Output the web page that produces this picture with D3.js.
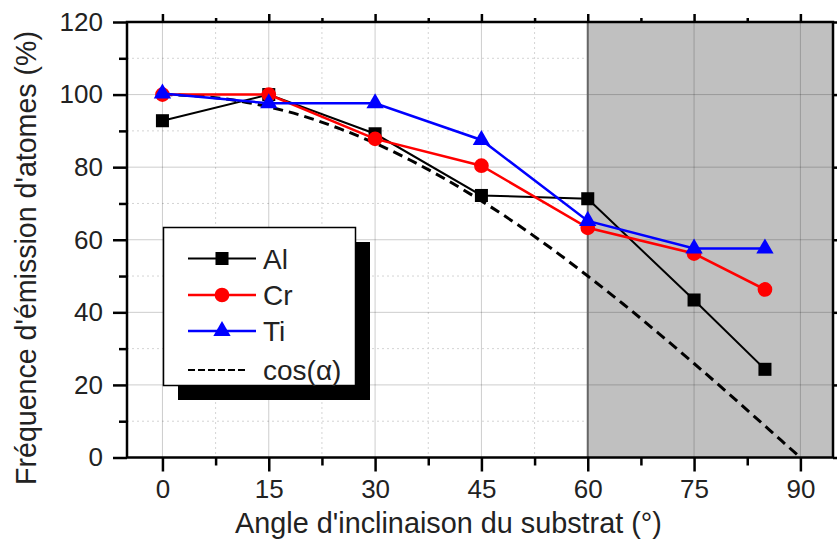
<!DOCTYPE html>
<html>
<head>
<meta charset="utf-8">
<script src="https://cdn.jsdelivr.net/npm/d3@7"></script>
<style>
  body { margin: 0; background: #fff; }
  svg text { font-family: "Liberation Sans", Arial, sans-serif; fill: #222; }
</style>
</head>
<body>
<svg id="chart" width="837" height="547"></svg>
<script>
// data
var angles = [0, 15, 30, 45, 60, 75, 85];
var alValues = [92.8, 100, 89.2, 72.2, 71.3, 43.4, 24.3];
var crValues = [100, 100, 87.8, 80.4, 63.3, 56.2, 46.3];
var tiValues = [100.3, 97.6, 97.6, 87.5, 65.2, 57.6, 57.6];
var cosAngles = [0, 5, 10, 15, 20, 25, 30, 35, 40, 45, 50, 55, 60, 65, 70, 75, 80, 85, 90];
var cosValues = [100, 99.6, 98.5, 96.6, 94.0, 90.6, 86.6, 81.9, 76.6, 70.7, 64.3, 57.4, 50, 42.3, 34.2, 25.9, 17.4, 8.7, 0];
var xTicks = [0, 15, 30, 45, 60, 75, 90];
var xMinor = [7.5, 22.5, 37.5, 52.5, 67.5, 82.5];
var yTicks = [0, 20, 40, 60, 80, 100, 120];
var yMinor = [10, 30, 50, 70, 90, 110];
var shadeStart = 60;
var legendNames = ["Al", "Cr", "Ti", "cos(\u03b1)"];

var svg = d3.select("#chart");
var pLeft = 127, pRight = 833, pTop = 22, pBottom = 457.5;

var x = d3.scaleLinear().domain([-5, 94.6]).range([pLeft, pRight]);
var y = d3.scaleLinear().domain([0, 120]).range([pBottom, pTop]);

// minor grid (dotted)
var grid = svg.append("g");
grid.selectAll(".mx").data(xMinor).enter().append("line")
    .attr("x1", d => x(d)).attr("x2", d => x(d))
    .attr("y1", pTop).attr("y2", pBottom)
    .attr("stroke", "#d4d4d4").attr("stroke-width", 1).attr("stroke-dasharray", "2,3");
grid.selectAll(".my").data(yMinor).enter().append("line")
    .attr("x1", pLeft).attr("x2", pRight)
    .attr("y1", d => y(d)).attr("y2", d => y(d))
    .attr("stroke", "#d4d4d4").attr("stroke-width", 1).attr("stroke-dasharray", "2,3");

// shaded region
svg.append("rect")
    .attr("x", x(shadeStart)).attr("y", pTop)
    .attr("width", pRight - x(shadeStart)).attr("height", pBottom - pTop)
    .attr("fill", "#c0c0c0");

// major grid (translucent so it darkens on grey)
grid = svg.append("g");
grid.selectAll(".Mx").data(xTicks).enter().append("line")
    .attr("x1", d => x(d)).attr("x2", d => x(d))
    .attr("y1", pTop).attr("y2", pBottom)
    .attr("stroke", "rgba(0,0,0,0.2)").attr("stroke-width", 1);
grid.selectAll(".My").data(yTicks.slice(1, -1)).enter().append("line")
    .attr("x1", pLeft).attr("x2", pRight)
    .attr("y1", d => y(d)).attr("y2", d => y(d))
    .attr("stroke", "rgba(0,0,0,0.2)").attr("stroke-width", 1);

svg.append("line")
    .attr("x1", x(shadeStart)).attr("x2", x(shadeStart))
    .attr("y1", pTop).attr("y2", pBottom)
    .attr("stroke", "#666").attr("stroke-width", 2);

// cos curve
var cosData = cosAngles.map((a, i) => [a, cosValues[i]]);
svg.append("path")
    .datum(cosData)
    .attr("d", d3.line().x(d => x(d[0])).y(d => y(d[1])).curve(d3.curveMonotoneX))
    .attr("fill", "none").attr("stroke", "#000")
    .attr("stroke-width", 3).attr("stroke-dasharray", "10,6");

var series = [
    { name: "Al", values: alValues, color: "#000", width: 2, shape: d3.symbolSquare, size: 170 },
    { name: "Cr", values: crValues, color: "#ff0000", width: 2.5, shape: d3.symbolCircle, size: 170 },
    { name: "Ti", values: tiValues, color: "#0000ff", width: 2.5, shape: d3.symbolTriangle, size: 130 }
];

var line = d3.line().x(d => x(d[0])).y(d => y(d[1]));
series.forEach(function (s) {
    var pts = angles.map((a, i) => [a, s.values[i]]);
    var g = svg.append("g");
    g.append("path").datum(pts).attr("d", line)
        .attr("fill", "none").attr("stroke", s.color).attr("stroke-width", s.width);
    g.selectAll("path.m").data(pts).enter().append("path")
        .attr("class", "m")
        .attr("d", d3.symbol().type(s.shape).size(s.size))
        .attr("transform", d => "translate(" + x(d[0]) + "," + y(d[1]) + ")")
        .attr("fill", s.color);
});

// frame
svg.append("rect")
    .attr("x", pLeft).attr("y", pTop)
    .attr("width", pRight - pLeft).attr("height", pBottom - pTop)
    .attr("fill", "none").attr("stroke", "#000").attr("stroke-width", 2.5);

// axes
function styleAxis(g) {
    g.select(".domain").remove();
    g.selectAll(".tick line").attr("stroke", "#000").attr("stroke-width", 2.5);
    g.selectAll("text").style("font-size", "26px").style("fill", "#222");
}
svg.append("g").attr("transform", "translate(0," + pBottom + ")")
    .call(d3.axisBottom(x).tickValues(xTicks).tickSize(14).tickPadding(8))
    .call(styleAxis);
svg.append("g").attr("transform", "translate(0," + pBottom + ")")
    .call(d3.axisBottom(x).tickValues(xMinor).tickSize(8).tickFormat(""))
    .call(styleAxis);
svg.append("g").attr("transform", "translate(" + pLeft + ",0)")
    .call(d3.axisLeft(y).tickValues(yTicks).tickSize(14).tickPadding(10))
    .call(styleAxis);
svg.append("g").attr("transform", "translate(" + pLeft + ",0)")
    .call(d3.axisLeft(y).tickValues(yMinor).tickSize(8).tickFormat(""))
    .call(styleAxis);
svg.append("g").attr("transform", "translate(0," + pTop + ")")
    .call(d3.axisTop(x).tickValues(xTicks).tickSize(8).tickFormat(""))
    .call(styleAxis);
svg.append("g").attr("transform", "translate(0," + pTop + ")")
    .call(d3.axisTop(x).tickValues(xMinor).tickSize(4).tickFormat(""))
    .call(styleAxis);
svg.append("g").attr("transform", "translate(" + pRight + ",0)")
    .call(d3.axisRight(y).tickValues(yTicks).tickSize(8).tickFormat(""))
    .call(styleAxis);

// fit a title to the span it has in the figure
function fitText(t, span) {
    var w = t.node().getComputedTextLength();
    var fs = parseFloat(t.style("font-size"));
    t.style("font-size", (fs * span / w) + "px");
}

// axis titles
var xTitle = svg.append("text")
    .attr("x", 448.5).attr("y", 533)
    .attr("text-anchor", "middle")
    .style("font-size", "28.5px")
    .text("Angle d'inclinaison du substrat (\u00b0)");
fitText(xTitle, 427);
var yTitle = svg.append("text")
    .attr("transform", "translate(36,258) rotate(-90)")
    .attr("text-anchor", "middle")
    .style("font-size", "28.5px")
    .text("Fr\u00e9quence d'\u00e9mission d'atomes (%)");
fitText(yTitle, 454);

// legend
var lg = svg.append("g");
lg.append("rect").attr("x", 178).attr("y", 242).attr("width", 192).attr("height", 158).attr("fill", "#000");
lg.append("rect").attr("x", 163.5).attr("y", 227.5).attr("width", 192).attr("height", 158)
    .attr("fill", "#fff").attr("stroke", "#000").attr("stroke-width", 1.5);
var rowY = [258.5, 295, 331, 370];
series.forEach(function (s, i) {
    lg.append("line").attr("x1", 188).attr("x2", 256).attr("y1", rowY[i]).attr("y2", rowY[i])
        .attr("stroke", s.color).attr("stroke-width", s.width);
    lg.append("path").attr("d", d3.symbol().type(s.shape).size(s.size))
        .attr("transform", "translate(222," + rowY[i] + ")").attr("fill", s.color);
});
lg.append("line").attr("x1", 188).attr("x2", 247).attr("y1", rowY[3]).attr("y2", rowY[3])
    .attr("stroke", "#000").attr("stroke-width", 2).attr("stroke-dasharray", "7,3");
legendNames.forEach(function (n, i) {
    lg.append("text").attr("x", 263).attr("y", rowY[i] + 10)
        .style("font-size", "28px").text(n);
});
</script>
</body>
</html>
